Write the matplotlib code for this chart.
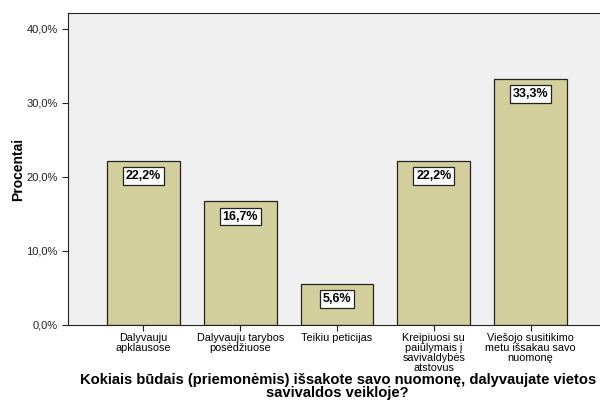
import numpy as np
import matplotlib.pyplot as plt

kategorijos = ['Dalyvauju\napklausose', 'Dalyvauju tarybos\nposėdžiuose', 'Teikiu peticijas',
               'Kreipiuosi su\npaiūlymais į\nsavivaldybės\natstovus',
               'Viešojo susitikimo\nmetu išsakau savo\nnuomonę']
procentai = [22.2, 16.7, 5.6, 22.2, 33.3]
y_ticks = [0, 10, 20, 30, 40]

plt.rcParams['font.family'] = ['Liberation Sans', 'DejaVu Sans']

fig = plt.figure(figsize=(6, 4.01), dpi=100)
ax = fig.add_axes([68/600, 1-325/401, 538/600, 312/401])
ax.set_facecolor('#F0F0F0')

x = np.arange(len(kategorijos))
ax.bar(x, procentai, width=0.75, color='#D3CF9D', edgecolor='#222222', linewidth=0.9)

for xi, v in zip(x, procentai):
    lbl = f'{v:.1f}%'.replace('.', ',')
    ax.annotate(lbl, (xi, v), xytext=(0, -11), textcoords='offset points',
                ha='center', va='center', fontsize=9, fontweight='bold',
                bbox=dict(boxstyle='square,pad=0.22', fc='white', ec='#222222', lw=0.9))

ax.set_xlim(-0.78, 4.78)
ax.set_ylim(0, 42.16)
ax.set_yticks(y_ticks)
ax.set_yticklabels([f'{t:.1f}%'.replace('.', ',') for t in y_ticks], fontsize=8, color='#222222')
ax.set_xticks(x)
ax.set_xticklabels(kategorijos, fontsize=7.8, linespacing=0.98)
ax.tick_params(axis='both', length=4, width=0.8, color='#222222')
ax.tick_params(axis='x', pad=2)
ax.spines['right'].set_visible(False)
for s in ['left', 'bottom', 'top']:
    ax.spines[s].set_color('#222222')

ax.set_ylabel('Procentai', fontsize=10, fontweight='bold', labelpad=1)
fig.text(0.563, 0.036, 'Kokiais būdais (priemonėmis) išsakote savo nuomonę, dalyvaujate vietos\nsavivaldos veikloje?',
         ha='center', va='center', fontsize=10.6, fontweight='bold', linespacing=0.9)

plt.savefig('out.png', dpi=100)
